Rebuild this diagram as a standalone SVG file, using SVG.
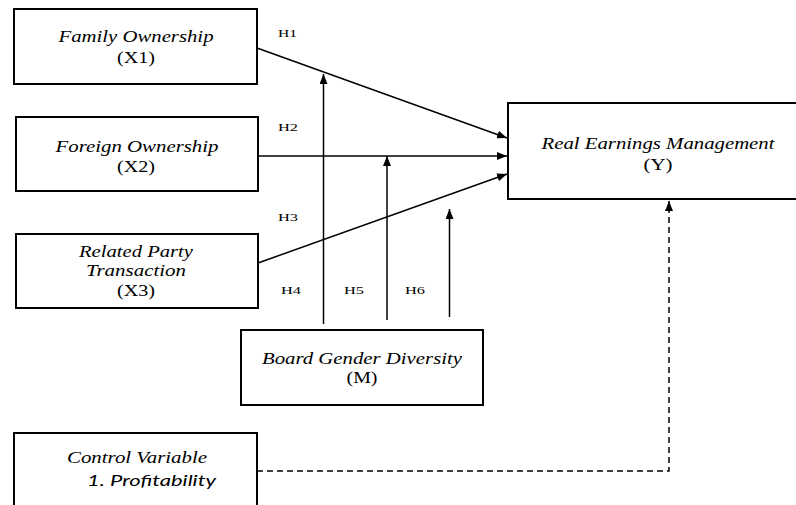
<svg xmlns="http://www.w3.org/2000/svg" width="796" height="505" viewBox="0 0 796 505">
<style>
.box{fill:#fff;stroke:#000;stroke-width:2}
.c{stroke:#000;stroke-width:1.5;fill:none}
.d{stroke:#000;stroke-width:1.5;fill:none;stroke-dasharray:6,4}
</style>
<defs>
<marker id="a" markerWidth="10" markerHeight="8" refX="10" refY="4" orient="auto" markerUnits="userSpaceOnUse">
<path d="M0,0 L10,4 L0,8 Z" fill="#000"/>
</marker>
</defs>
<rect width="796" height="505" fill="#fff"/>
<g id="connectors">
<line class="c" x1="257" y1="48" x2="507" y2="138" marker-end="url(#a)"/>
<line class="c" x1="258" y1="156" x2="507" y2="156" marker-end="url(#a)"/>
<line class="c" x1="258" y1="263" x2="507" y2="174" marker-end="url(#a)"/>
<line class="c" x1="323.5" y1="324" x2="323.5" y2="74" marker-end="url(#a)"/>
<line class="c" x1="387" y1="320" x2="387" y2="156" marker-end="url(#a)"/>
<line class="c" x1="449.5" y1="317" x2="449.5" y2="209" marker-end="url(#a)"/>
<path class="d" d="M257,471 H669 V201" marker-end="url(#a)"/>
</g>
<g font-family="Liberation Serif, Times New Roman, serif" font-size="16" text-anchor="middle" fill="#000">
<g id="family">
<rect class="box" x="14" y="9" width="243" height="75"/>
<text font-style="italic" x="136" y="42" textLength="155" lengthAdjust="spacingAndGlyphs">Family Ownership</text>
<text x="136" y="63" textLength="38" lengthAdjust="spacingAndGlyphs">(X1)</text>
</g>
<g id="foreign">
<rect class="box" x="16" y="117" width="242" height="74"/>
<text font-style="italic" x="137" y="152" textLength="163" lengthAdjust="spacingAndGlyphs">Foreign Ownership</text>
<text x="136" y="172" textLength="38" lengthAdjust="spacingAndGlyphs">(X2)</text>
</g>
<g id="related">
<rect class="box" x="16" y="234" width="242" height="74"/>
<text font-style="italic" x="136" y="257" textLength="114" lengthAdjust="spacingAndGlyphs">Related Party</text>
<text font-style="italic" x="136" y="276" textLength="100" lengthAdjust="spacingAndGlyphs">Transaction</text>
<text x="136" y="296" textLength="38" lengthAdjust="spacingAndGlyphs">(X3)</text>
</g>
<g id="rem">
<rect class="box" x="508" y="103" width="290" height="96"/>
<text font-style="italic" x="658" y="149" textLength="233" lengthAdjust="spacingAndGlyphs">Real Earnings Management</text>
<text x="658" y="170" textLength="29" lengthAdjust="spacingAndGlyphs">(Y)</text>
</g>
<g id="board">
<rect class="box" x="241" y="330" width="242" height="75"/>
<text font-style="italic" x="362" y="364" textLength="200" lengthAdjust="spacingAndGlyphs">Board Gender Diversity</text>
<text x="362" y="383" textLength="31" lengthAdjust="spacingAndGlyphs">(M)</text>
</g>
<g id="control">
<rect class="box" x="14" y="433" width="243" height="80"/>
<text font-style="italic" x="137" y="463" textLength="140" lengthAdjust="spacingAndGlyphs">Control Variable</text>
<text font-family="Lato, Open Sans, sans-serif" font-style="italic" font-size="15" text-anchor="start" x="87" y="486" textLength="129" lengthAdjust="spacingAndGlyphs">1.   Profitability</text>
</g>
<g id="labels" font-size="11" text-anchor="start">
<text x="278" y="37" textLength="19" lengthAdjust="spacingAndGlyphs">H1</text>
<text x="278" y="131" textLength="20" lengthAdjust="spacingAndGlyphs">H2</text>
<text x="278" y="221" textLength="20" lengthAdjust="spacingAndGlyphs">H3</text>
<text x="281" y="294" textLength="20" lengthAdjust="spacingAndGlyphs">H4</text>
<text x="344" y="294" textLength="20" lengthAdjust="spacingAndGlyphs">H5</text>
<text x="405" y="294" textLength="20" lengthAdjust="spacingAndGlyphs">H6</text>
</g>
</g>
</svg>
